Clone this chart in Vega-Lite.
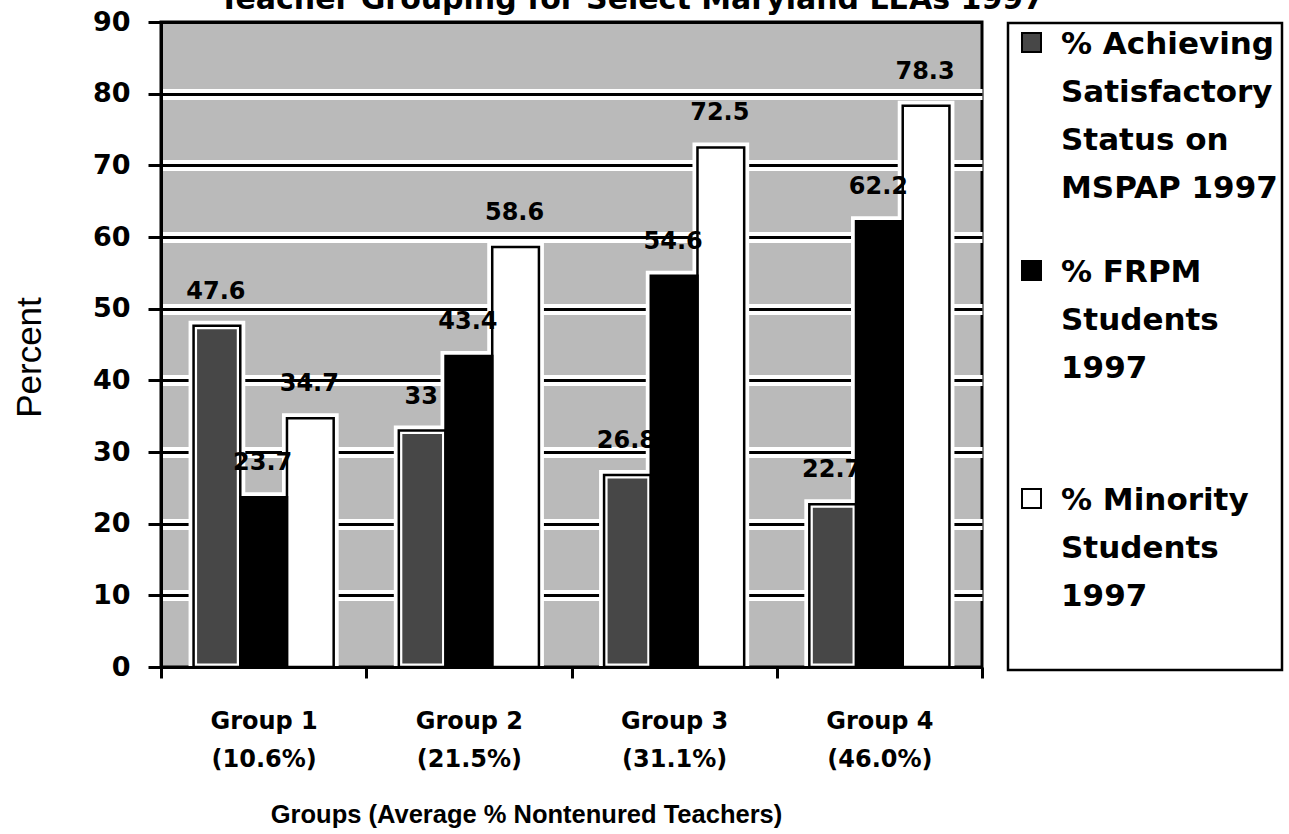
{
  "$schema": "https://vega.github.io/schema/vega-lite/v6.json",
  "width": 821,
  "height": 645,
  "autosize": {"type": "none"},
  "padding": {"left": 161, "top": 22, "right": 307, "bottom": 167},
  "background": "white",
  "title": {
    "text": "Teacher Grouping for Select Maryland LEAs 1997",
    "font": "DejaVu Sans",
    "fontSize": 30,
    "fontWeight": "bold",
    "color": "black",
    "anchor": "middle",
    "frame": "group",
    "baseline": "alphabetic",
    "offset": -2,
    "dx": 60,
    "dy": 29
  },
  "config": {
    "view": {"fill": "#bababa", "stroke": "black", "strokeWidth": 3}
  },
  "data": {
    "values": [
      {"group": "Group 1\n(10.6%)", "measure": "% Achieving\nSatisfactory\nStatus on\nMSPAP 1997", "value": 47.6},
      {"group": "Group 1\n(10.6%)", "measure": "% FRPM\nStudents\n1997", "value": 23.7},
      {"group": "Group 1\n(10.6%)", "measure": "% Minority\nStudents\n1997", "value": 34.7},
      {"group": "Group 2\n(21.5%)", "measure": "% Achieving\nSatisfactory\nStatus on\nMSPAP 1997", "value": 33},
      {"group": "Group 2\n(21.5%)", "measure": "% FRPM\nStudents\n1997", "value": 43.4},
      {"group": "Group 2\n(21.5%)", "measure": "% Minority\nStudents\n1997", "value": 58.6},
      {"group": "Group 3\n(31.1%)", "measure": "% Achieving\nSatisfactory\nStatus on\nMSPAP 1997", "value": 26.8},
      {"group": "Group 3\n(31.1%)", "measure": "% FRPM\nStudents\n1997", "value": 54.6},
      {"group": "Group 3\n(31.1%)", "measure": "% Minority\nStudents\n1997", "value": 72.5},
      {"group": "Group 4\n(46.0%)", "measure": "% Achieving\nSatisfactory\nStatus on\nMSPAP 1997", "value": 22.7},
      {"group": "Group 4\n(46.0%)", "measure": "% FRPM\nStudents\n1997", "value": 62.2},
      {"group": "Group 4\n(46.0%)", "measure": "% Minority\nStudents\n1997", "value": 78.3}
    ]
  },
  "encoding": {
    "x": {
      "field": "group",
      "type": "nominal",
      "sort": null,
      "scale": {"paddingInner": 0, "paddingOuter": 0},
      "axis": {
        "title": "Groups (Average % Nontenured Teachers)",
        "titleFont": "Liberation Sans",
        "titleFontSize": 25.5,
        "titleFontWeight": "bold",
        "titleColor": "black",
        "titleX": 365,
        "titleY": 155,
        "titleAlign": "center",
        "titleBaseline": "alphabetic",
        "labelAngle": 0,
        "labelFont": "DejaVu Sans",
        "labelFontSize": 24,
        "labelFontWeight": "bold",
        "labelColor": "black",
        "labelExpr": "split(datum.label, '\\n')",
        "labelLineHeight": 38,
        "labelBaseline": "top",
        "labelPadding": 31,
        "labelOverlap": false,
        "labelLimit": 0,
        "tickBand": "extent",
        "tickSize": 11,
        "tickWidth": 3,
        "tickColor": "black",
        "domainColor": "black",
        "domainWidth": 3,
        "grid": false,
        "zindex": 1
      }
    },
    "xOffset": {
      "field": "measure",
      "type": "nominal",
      "sort": null,
      "scale": {"paddingInner": 0, "paddingOuter": 0.6975}
    }
  },
  "layer": [
    {
      "mark": {"type": "bar", "fill": "white", "stroke": "white", "strokeWidth": 10},
      "encoding": {
        "y": {
          "field": "value",
          "type": "quantitative",
          "scale": {"domain": [0, 90], "nice": false},
          "axis": {
            "orient": "left",
            "values": [10, 20, 30, 40, 50, 60, 70, 80],
            "title": null,
            "labels": false,
            "ticks": false,
            "domain": false,
            "grid": true,
            "gridColor": "white",
            "gridWidth": 11,
            "gridOpacity": 1,
            "zindex": 0
          }
        }
      }
    },
    {
      "mark": {"type": "bar"},
      "encoding": {
        "y": {
          "field": "value",
          "type": "quantitative",
          "scale": {"domain": [0, 90], "nice": false},
          "axis": {
            "orient": "left",
            "values": [0, 10, 20, 30, 40, 50, 60, 70, 80, 90],
            "title": "Percent",
            "titleFont": "Liberation Sans",
            "titleFontSize": 35,
            "titleFontWeight": "normal",
            "titleColor": "black",
            "titleX": -121,
            "titleY": 335,
            "titleAngle": 270,
            "titleAlign": "center",
            "titleBaseline": "alphabetic",
            "labelFont": "DejaVu Sans",
            "labelFontSize": 27,
            "labelFontWeight": "bold",
            "labelColor": "black",
            "labelPadding": 18,
            "tickSize": 13,
            "tickWidth": 3,
            "tickColor": "black",
            "domainColor": "black",
            "domainWidth": 3,
            "grid": true,
            "gridColor": "black",
            "gridWidth": 3,
            "gridOpacity": 1,
            "zindex": 0
          }
        },
        "color": {
          "field": "measure",
          "type": "nominal",
          "sort": null,
          "scale": {
            "domain": ["% Achieving\nSatisfactory\nStatus on\nMSPAP 1997", "% FRPM\nStudents\n1997", "% Minority\nStudents\n1997"],
            "range": ["#474747", "#000000", "#ffffff"]
          },
          "legend": {
            "orient": "none",
            "legendX": 847,
            "legendY": 1,
            "title": " ",
            "titleOrient": "bottom",
            "titleFontSize": 10,
            "titlePadding": 44,
            "symbolType": "square",
            "symbolSize": 361,
            "symbolStrokeColor": "black",
            "symbolStrokeWidth": 2,
            "symbolOffset": 4,
            "labelOffset": 14,
            "labelFont": "DejaVu Sans",
            "labelFontSize": 31,
            "labelFontWeight": "bold",
            "labelColor": "black",
            "labelExpr": "indexof(datum.label, 'FRPM') >= 0 ? split(datum.label + '\\n', '\\n') : split(datum.label, '\\n')",
            "labelBaseline": "top",
            "labelLimit": 0,
            "rowPadding": 51,
            "padding": 4,
            "strokeColor": "black",
            "fillColor": "white",
            "encode": {
              "legend": {"update": {"strokeWidth": {"value": 2.5}}},
              "labels": {"update": {"lineHeight": {"value": 48}, "dy": {"value": -13}}}
            }
          }
        },
        "stroke": {
          "condition": {"test": "indexof(datum.measure || '', 'Achieving') >= 0", "value": "white"},
          "value": "transparent"
        },
        "strokeWidth": {
          "condition": {"test": "indexof(datum.measure || '', 'Achieving') >= 0", "value": 7},
          "value": 0
        }
      }
    },
    {
      "mark": {"type": "bar", "filled": false, "stroke": "black", "strokeWidth": 2.5},
      "encoding": {
        "y": {"field": "value", "type": "quantitative", "axis": null}
      }
    },
    {
      "mark": {
        "type": "text",
        "font": "DejaVu Sans",
        "fontSize": 24,
        "fontWeight": "bold",
        "color": "black",
        "baseline": "alphabetic",
        "align": "center",
        "dy": -27,
        "dx": -1
      },
      "encoding": {
        "y": {"field": "value", "type": "quantitative", "axis": null},
        "text": {"field": "value", "type": "quantitative"}
      }
    }
  ],
  "resolve": {"axis": {"y": "independent"}}
}
